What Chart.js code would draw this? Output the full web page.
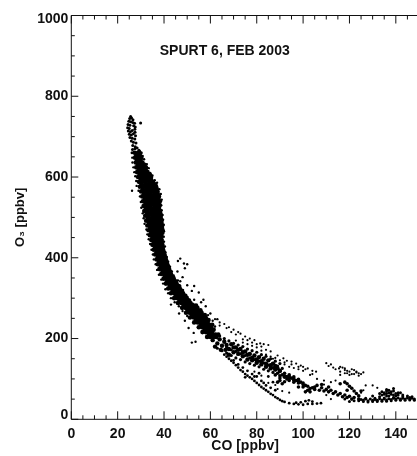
<!DOCTYPE html>
<html>
<head>
  <title>SPURT 6, FEB 2003</title>
  <meta charset="UTF-8"/>
  <style>
    html, body { margin: 0; padding: 0; background: #fff; overflow: hidden; }
    #wrap { width: 417px; height: 456px; overflow: hidden; }
  </style>
  <script src="https://cdn.jsdelivr.net/npm/chart.js"></script>
</head>
<body>
  <div id="wrap"><canvas id="myChart" width="425" height="456"></canvas></div>
  <script>
    const titleText = 'SPURT 6, FEB 2003';
    const yTickLabels = [0, 200, 400, 600, 800, 1000];

    // dense part of the band: [O3, [CO values along that row]]
    const bandRows = [
      [660, [27.4, 28.8]], [648, [27.5, 29, 30.2]],
      [636, [27.8, 29.2, 30.7]], [624, [28, 29.5, 31, 32.2]], [612, [28.4, 29.9, 31.3, 32.9]],
      [600, [28.8, 30.3, 31.8, 33.4, 34.4]], [588, [29.2, 30.7, 32.2, 33.7, 35.2]],
      [576, [29.6, 31.1, 32.7, 34.2, 35.7, 36.6]], [564, [30.1, 31.6, 33.1, 34.6, 36.2, 37.2]],
      [552, [30.6, 32, 33.6, 35, 36.6, 37.8]], [540, [30.9, 32.4, 33.9, 35.4, 37, 38.2]],
      [528, [31.2, 32.7, 34.2, 35.8, 37.2, 38]], [516, [31.5, 33, 34.6, 36, 37.4, 38.3]],
      [504, [31.9, 33.4, 34.9, 36.3, 37.7, 38.6]], [492, [32.3, 33.8, 35.2, 36.7, 38, 38.9]],
      [480, [32.8, 34.2, 35.6, 37, 38.3, 39.2]], [468, [33.3, 34.6, 36, 37.3, 38.5, 39.4]],
      [456, [33.9, 35.1, 36.4, 37.7, 38.8]], [444, [34.5, 35.6, 36.8, 38, 39]],
      [432, [35, 36.2, 37.3, 38.4, 39.3]], [420, [35.6, 36.7, 37.8, 38.8, 39.6]],
      [408, [36.2, 37.3, 38.4, 39.4, 40.2]], [396, [36.8, 37.9, 39, 40, 40.8]],
      [384, [37.3, 38.5, 39.6, 40.7, 41.4]], [372, [38, 39.2, 40.3, 41.4, 42.2]],
      [360, [38.8, 40, 41.2, 42.2, 43]], [348, [39.8, 41, 42.2, 43.3, 44.2]],
      [336, [40.8, 42, 43.2, 44.4, 45.4]], [324, [41.8, 43.2, 44.5, 45.8, 46.8]],
      [312, [43, 44.4, 45.8, 47.1, 48.2]], [300, [44.4, 45.8, 47.2, 48.6, 49.8]],
      [288, [46, 47.4, 48.8, 50.2, 51.4]], [276, [47.8, 49.2, 50.6, 52, 53.2, 54.4]],
      [264, [49.5, 51, 52.4, 53.8, 55, 56.2]], [252, [51.2, 52.8, 54.2, 55.6, 56.8, 58]],
      [240, [53, 54.5, 56, 57.4, 58.8]], [228, [55, 56.4, 57.8, 59, 60.2]],
      [216, [56.6, 58, 59.4, 60.8]], [204, [58.6, 60, 61.4, 62.6]]
    ];

    // second layer, between the rows above
    const bandRowsB = [
      [654, [28.1, 29.6]], [642, [28.3, 29.9]], [630, [28.7, 30.2, 31.6]], [618, [29.1, 30.6, 32.1]],
      [606, [29.5, 31, 32.6, 33.9]], [594, [30, 31.4, 33, 34.4]], [582, [30.3, 31.9, 33.4, 34.9, 36.2]],
      [570, [30.8, 32.3, 33.9, 35.4, 36.9]], [558, [31.3, 32.8, 34.3, 35.8, 37.3]],
      [546, [31.7, 33.2, 34.7, 36.2, 37.6]], [534, [32, 33.5, 35, 36.5, 37.9]],
      [522, [32.3, 33.8, 35.3, 36.8, 37.8]], [510, [32.7, 34.2, 35.6, 37, 38.4]],
      [498, [33.1, 34.5, 36, 37.4, 38.6]], [486, [33.5, 34.9, 36.3, 37.7, 38.9]],
      [474, [34, 35.3, 36.7, 38, 39.1]], [462, [34.5, 35.8, 37.1, 38.3, 39.3]],
      [450, [35, 36.2, 37.4, 38.6]], [438, [35.6, 36.8, 37.9, 39]], [426, [36.2, 37.3, 38.3, 39.4]],
      [414, [36.8, 37.9, 38.9, 39.9]], [402, [37.4, 38.5, 39.5, 40.5]], [390, [37.9, 39, 40.2, 41.1]],
      [378, [38.6, 39.8, 40.9, 41.8]], [366, [39.4, 40.6, 41.7, 42.6]], [354, [40.4, 41.6, 42.8, 43.8]],
      [342, [41.4, 42.6, 43.8, 45]], [330, [42.5, 43.8, 45.2, 46.4]], [318, [43.7, 45.1, 46.5, 47.7]],
      [306, [45.1, 46.5, 47.9, 49.2]], [294, [46.7, 48.1, 49.5, 50.8]], [282, [48.5, 49.9, 51.3, 52.7, 53.8]],
      [270, [50.2, 51.7, 53.1, 54.5, 55.7]], [258, [52, 53.5, 54.9, 56.3, 57.6]],
      [246, [53.8, 55.3, 56.7, 58.1, 59.2]], [234, [55.8, 57.1, 58.4, 59.6, 60.8]],
      [222, [57.5, 58.8, 60.1, 61.4]], [210, [59.4, 60.8, 62.2, 63.4]]
    ];

    const topBlob = [
      [25.6,750],[25.2,745],[26,746],[26.6,742],[24.8,738],[25.6,737],[26.5,735],[27.3,733],[24.5,730],[25.3,728],
      [26.9,727],[27.6,724],[24.3,722],[25,720],[27.4,718],[24.6,714],[25.5,712],[26.3,715],[27.5,711],[25,706],
      [25.9,704],[26.8,707],[27.7,702],[25.3,698],[26.3,696],[27.4,694],[25.9,689],[26.8,686],[27.9,684],[26.5,678],
      [27.6,675],[29.9,734],[26.4,668],[27.4,670],[28.4,672],[26.2,660],[29.2,666],[30.2,660]
    ];

    const bandFringe = [
      [29.6,664],[30.8,652],[26.3,648],[31.4,644],[26.4,636],[32.6,632],[26.8,624],[33.4,622],[27.2,612],
      [34,610],[27.6,602],[35,604],[28,590],[36,592],[28.2,578],[37,586],[26.2,566],[38,570],[29,566],
      [38.6,558],[29.6,552],[39,544],[30,538],[38.8,530],[30.2,524],[39,518],[30.8,510],[39.4,506],[31.2,498],
      [39.6,494],[31.6,484],[39.9,482],[32.4,470],[40,466],[32.8,458],[39.9,452],[33.4,446],[40,440],[34,434],
      [40.4,428],[34.6,420],[40.6,414],[35.2,408],[41.2,402],[35.6,396],[41.8,390],[36.4,384],[42.6,378],[37,370],
      [43.4,366],[37.8,358],[44.2,352],[38.8,346],[46,344],[39.6,336],[47,330],[40.6,322],[48.2,320],[41.8,312],
      [49.2,306],[43,300],[50.8,296],[44.6,290],[52.4,286],[46.4,280],[54,272],[48,268],[56,262],[50,256],
      [47,398],[46,392],[48.6,386],[49,374],[45.8,366],[50,384],[48,352],[47,342],[50,332],[53,330],
      [52,318],[55,314],[50,303],[53,296],[56,290],[58,280],[60,262],[59,258],[61,244],[62,230],
      [50.6,226],[52.8,214],[53.6,192],[52,190],[44,300],[43,284],[46.5,262],[49,244],[63,248],[57,296]
    ];

    const mainStrip = [
      [61,196],[62.5,204],[63,188],[64,198],[65,182],[66,192],[66.5,172],[67,184],[68,174],[69,186],
      [70,166],[71,178],[72,162],[73,174],[74,156],[75,168],[76,148],[77,162],[78,146],[79,158],
      [80,140],[81,154],[82,136],[83,150],[84,130],[85,146],[86,126],[87,138],[88,124],[62,180],
      [64.5,172],[68,160],[70,178],[72,172],[74,166],[76,160],[78,152],[80,148],[82,144],[84,138],
      [86,134],[88,132],[89,126],[90,120]
    ];

    const stripFill = [
      [63,176],[65,170],[67,164],[69,158],[71,152],[73,148],[75,142],[77,138],[79,134],[81,130],
      [83,124],[85,120],[87,116],[64,206],[66,200],[68,194],[70,188],[72,184],[74,180],[76,174],
      [78,170],[80,166],[82,160],[84,156],[86,150],[88,144],[90,138],[67,178],[69,172],[71,168],
      [73,162],[75,158],[77,152],[79,148],[81,144],[83,140],[85,134],[87,128],[89,132],[91,126]
    ];

    const lowerThin = [
      [66,160],[67,155],[68,150],[69,145],[70,140],[71,134],[72,128],[73,122],[74,118],[75,112],
      [76,108],[77,104],[78,100],[79,95],[80,90],[81,85],[82,80],[83,76],[84,72],[85,68],
      [86,63],[87,60],[88,55],[89,52],[90,48],[91,45],[92,43],[94,40],[96,38],[98,37],
      [100,36],[102,38],[104,38],[106,39],[107.7,40],[99,42],[101,45],[102.5,47],[104,44],[97,41],
      [74,128],[76,120],[78,112],[80,106],[82,95],[84,84],[86,78],[88,72],[72,136],[70,146],
      [75,104],[79,106],[83,90],[81,114],[85,106],[87,92]
    ];

    const midBranch = [
      [88,122],[90,119],[92,114],[94,110],[96,105],[98,99],[100,90],[102,82],[104,78],[90,108],
      [92,104],[94,101],[96,97],[98,90],[100,80],[102,72],[90,96],[92,93],[94,96],[101,68],
      [96,92],[98,80],[103,68],[88,110],[106,84],[108,78],[110,74],[112,72],[114,68],[116,64],
      [118,60],[108,86],[111,80],[105,74],[120,57],[122,54],[124,50],[118,92],[119,88],[120,82],
      [121,77],[122,70],[123,64],[124,58],[116,88],[119,72],[125,70],
      [89,114],[91,110],[93,106],[95,102],[97,96],[99,92],[101,84],[103,76],[105,80],[107,72],
      [109,70],[111,68],[113,64],[115,60],[117,56],[119,54],[121,50],[100,86],[98,94],[96,100],
      [94,106],[92,108],[90,102],[89,92],[91,88],[93,100]
    ];

    const tailBand = [
      [124,46],[126,48],[128,46],[130,47],[132,47],[134,48],[136,48],[138,49],[140,50],[142,50],
      [144,50],[146,50],[148,50],[127,52],[131,52],[135,53],[139,54],[143,56],[146,54],[134,60],
      [135,66],[136,70],[137,66],[138,62],[139,70],[140,64],[141,60],[136,58],[142,66],[133,56],
      [130,58],[122,46],[120,44],[118,50],
      [125,49],[127,50],[129,50],[131,49],[133,51],[135,50],[137,51],[139,52],[141,53],[143,52],
      [145,53],[147,52],[126,44],[128,43],[130,44],[132,44],[134,45],[136,45],[138,46],[140,47],
      [142,47],[144,47],[146,48],[148,47],[135,62],[136,64],[137,72],[138,68],[139,60],[140,58],
      [141,66],[136,74],[134,68],[137,58],[139,76],[133,64],[143,60],[145,58],[147,56]
    ];

    const upperScatter = [
      [62,248],[64,240],[66,236],[68,228],[70,222],[72,216],[73,212],[75,205],[77,200],[79,196],
      [81.5,188],[83,186],[85,184],[71,195],[74,190],[76,186],[78,182],[80,178],[82,170],[84,160],
      [86,155],[88,152],[91.5,151],[93,145],[95,143],[97,138],[99,133],[100,130],[102,126],[104,120],
      [105.6,118],[92,136],[94,130],[96,127],[98,124],[100,120],[103,110],[106,100],[109,96],[112,92],
      [110,139],[112,136],[114,124],[115.5,126],[117,128],[118,122],[119,120],[120,118],[122,122],[124,114],
      [125,112],[123,116],[121,124],[114,96],[116,110],[130,84],[132,78],[127,84],[126,72],[109,86],
      [89,75],[91,70],[94,66],[88,85],[85,90],[82,108],[79,118],[112,50],[110,60],[125,66],
      [87,150],[90,146],[92,141],[95,136],[98,130],[101,124],[104,112],[84,172],[80,186],[76,196],
      [120,110],[118,114],[116,118],[122,112],
      [111,132],[113,128],[116,130],[118,126],[119,114],[121,112],[123,118],[124,108],[126,116],[64,232],
      [67,226],[69,216],[71,210],[74,198],[78,190],[82,180],[86,168],[89,158]
    ];

    const rowsToXY = rows => rows.flatMap(r => r[1].map(co => ({ x: co, y: r[0] })));
    const toXY = list => list.map(p => ({ x: p[0], y: p[1] }));

    function dots(data, r) {
      return {
        data: data,
        showLine: false,
        pointRadius: r,
        pointBorderWidth: 0,
        pointBackgroundColor: '#000',
        clip: false
      };
    }

    // IDL style axes: inward ticks on bottom/top/left, labels for y nudged at the ends
    const axesPlugin = {
      id: 'axesPlugin',
      afterDraw(chart) {
        const c = chart.ctx, a = chart.chartArea, sx = chart.scales.x, sy = chart.scales.y;
        c.save();
        c.strokeStyle = '#111';
        c.lineWidth = 1;
        c.beginPath();
        c.moveTo(a.left, a.top); c.lineTo(a.right, a.top);
        c.moveTo(a.left, a.top); c.lineTo(a.left, a.bottom);
        c.moveTo(a.left, a.bottom); c.lineTo(a.right, a.bottom);
        sx.ticks.forEach(t => {
          const px = sx.getPixelForValue(t.value), len = t.value % 20 === 0 ? 8 : 4;
          c.moveTo(px, a.bottom); c.lineTo(px, a.bottom - len);
          c.moveTo(px, a.top); c.lineTo(px, a.top + len);
        });
        sy.ticks.forEach(t => {
          const py = sy.getPixelForValue(t.value), len = t.value % 200 === 0 ? 7 : 3.5;
          c.moveTo(a.left, py); c.lineTo(a.left + len, py);
        });
        c.stroke();

        c.fillStyle = '#111';
        c.font = 'bold 14px "Liberation Sans"';
        c.textAlign = 'right';
        c.textBaseline = 'middle';
        yTickLabels.forEach(v => {
          let dy = 0;
          if (v === 0) dy = -4;
          if (v === 1000) dy = 3.5;
          c.fillText(String(v), a.left - 3, sy.getPixelForValue(v) + dy);
        });
        c.textAlign = 'center';
        c.fillText(titleText, sx.getPixelForValue(66.2), sy.getPixelForValue(912));
        c.restore();
      }
    };

    new Chart(document.getElementById('myChart'), {
      type: 'scatter',
      data: {
        datasets: [
          dots(rowsToXY(bandRows), 2.3),
          dots(rowsToXY(bandRowsB), 2.3),
          dots(toXY(topBlob), 1.5),
          dots(toXY(bandFringe), 1.2),
          dots(toXY(mainStrip), 2.2),
          dots(toXY(stripFill), 1.6),
          dots(toXY(lowerThin), 1.4),
          dots(toXY(midBranch), 1.8),
          dots(toXY(tailBand), 1.5),
          dots(toXY(upperScatter), 1.1)
        ]
      },
      plugins: [axesPlugin],
      options: {
        responsive: false,
        animation: false,
        layout: { padding: { top: 15.5, right: 0, left: 0, bottom: 0 } },
        plugins: { legend: { display: false }, tooltip: { enabled: false } },
        scales: {
          x: {
            type: 'linear', min: 0, max: 150,
            grid: { display: false, drawTicks: false }, border: { display: false },
            afterFit: s => { s.height = 36.7; },
            ticks: {
              stepSize: 5, autoSkip: false, maxRotation: 0, padding: 6,
              color: '#111', font: { family: '"Liberation Sans"', size: 14, weight: 'bold' },
              callback: v => (v % 20 === 0 ? String(v) : '')
            },
            title: {
              display: true, text: 'CO [ppbv]', color: '#111', padding: { top: 0, bottom: 1 },
              font: { family: '"Liberation Sans"', size: 14, weight: 'bold' }
            }
          },
          y: {
            type: 'linear', min: 0, max: 1000,
            grid: { display: false }, border: { display: false },
            afterFit: s => { s.width = 71.3; },
            ticks: { stepSize: 50, autoSkip: false, display: false },
            title: {
              display: true, text: 'O₃ [ppbv]', color: '#111', padding: { top: 13, bottom: 0 },
              font: { family: '"Liberation Sans"', size: 13, weight: 'bold' }
            }
          }
        }
      }
    });
  </script>
</body>
</html>
